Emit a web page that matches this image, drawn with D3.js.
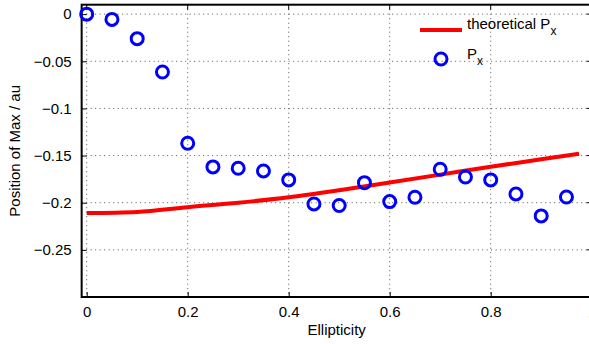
<!DOCTYPE html>
<html><head><meta charset="utf-8">
<script src="https://cdn.jsdelivr.net/npm/d3@7"></script>
<style>
body{margin:0;background:#fff;}
svg{display:block;font-family:"Liberation Sans",Arial,Helvetica,sans-serif;}
</style></head>
<body>
<svg id="chart" width="589" height="344"></svg>
<script>
const ellipticity = [0,0.05,0.1,0.15,0.2,0.25,0.3,0.35,0.4,0.45,0.5,0.55,0.6,0.65,0.7,0.75,0.8,0.85,0.9,0.95];
const measuredPx = [0,-0.0056,-0.026,-0.0614,-0.137,-0.162,-0.1635,-0.1663,-0.1758,-0.2013,-0.203,-0.1787,-0.1988,-0.1942,-0.1645,-0.1727,-0.1758,-0.1907,-0.214,-0.1939];
const theoryX = [0,0.1,0.2,0.3,0.4,0.5,0.6,0.7,0.8,0.9,0.975];
const theoryPx = [-0.211,-0.2098,-0.2047,-0.2,-0.1942,-0.1867,-0.1785,-0.1702,-0.1618,-0.154,-0.148];
const xTicks = [0,0.2,0.4,0.6,0.8,1];
const yTicks = [0,-0.05,-0.1,-0.15,-0.2,-0.25];

const svg = d3.select("#chart");
const L = 81.65, R = 591.7, T = 4.7, B = 297;
const FS = "15px", SUB = "12px";
const x = d3.scaleLinear().domain([-0.01,1]).range([L,R]);
const y = d3.scaleLinear().domain([-0.3,0.01]).range([B,T]);
const fmt = v => (v===0?"0":(v<0?"\u2212":"")+String(Math.abs(v)));

// grid
const g = svg.append("g");
g.selectAll(".gx").data(xTicks).enter().append("line")
  .attr("x1",d=>x(d)).attr("x2",d=>x(d)).attr("y1",T).attr("y2",B)
  .attr("stroke","#555").attr("stroke-width",1).attr("stroke-dasharray","1,3.5");
g.selectAll(".gy").data(yTicks).enter().append("line")
  .attr("y1",d=>y(d)).attr("y2",d=>y(d)).attr("x1",L).attr("x2",R)
  .attr("stroke","#555").attr("stroke-width",1).attr("stroke-dasharray","1,3.5");

// axes via d3
const xAxis = d3.axisBottom(x).tickValues(xTicks).tickSizeInner(-5).tickSizeOuter(0).tickPadding(9).tickFormat(fmt);
const yAxis = d3.axisLeft(y).tickValues(yTicks).tickSizeInner(-5).tickSizeOuter(0).tickPadding(10).tickFormat(fmt);
const xa = svg.append("g").attr("transform",`translate(0,${B})`).call(xAxis);
const ya = svg.append("g").attr("transform",`translate(${L},0)`).call(yAxis);
[xa,ya].forEach(a=>{
  a.select(".domain").remove();
  a.selectAll(".tick line").attr("stroke","#000").attr("stroke-width",1);
  a.selectAll("text").attr("fill","#000").style("font-size",FS);
});
// top/right ticks
svg.append("g").selectAll("line").data(xTicks).enter().append("line")
  .attr("x1",d=>x(d)).attr("x2",d=>x(d)).attr("y1",T).attr("y2",T+5).attr("stroke","#000");
svg.append("g").selectAll("line").data(yTicks).enter().append("line")
  .attr("y1",d=>y(d)).attr("y2",d=>y(d)).attr("x1",R).attr("x2",R-5).attr("stroke","#000");

// box
svg.append("rect").attr("x",L).attr("y",T).attr("width",R-L).attr("height",B-T)
  .attr("fill","none").attr("stroke","#000").attr("stroke-width",2);

// theoretical line
const line = d3.line().x((d,i)=>x(theoryX[i])).y(d=>y(d)).curve(d3.curveMonotoneX);
svg.append("path").datum(theoryPx).attr("d",line)
  .attr("fill","none").attr("stroke","#ff0000").attr("stroke-width",4);

// measured
svg.append("g").selectAll("circle").data(measuredPx).enter().append("circle")
  .attr("cx",(d,i)=>x(ellipticity[i])).attr("cy",d=>y(d)).attr("r",6)
  .attr("fill","none").attr("stroke","#0000ff").attr("stroke-width",3);

// legend
const lg = svg.append("g");
lg.append("line").attr("x1",420).attr("x2",462).attr("y1",30).attr("y2",30)
  .attr("stroke","#ff0000").attr("stroke-width",4);
const t1 = lg.append("text").attr("x",467).attr("y",29).style("font-size",FS).attr("fill","#000");
t1.append("tspan").text("theoretical P");
t1.append("tspan").attr("dy",6).style("font-size",SUB).text("x");
lg.append("circle").attr("cx",441).attr("cy",59).attr("r",6)
  .attr("fill","none").attr("stroke","#0000ff").attr("stroke-width",3);
const t2 = lg.append("text").attr("x",467).attr("y",59).style("font-size",FS).attr("fill","#000");
t2.append("tspan").text("P");
t2.append("tspan").attr("dy",6).style("font-size",SUB).text("x");

// axis labels
svg.append("text").attr("x",(L+R)/2).attr("y",335).attr("text-anchor","middle")
  .style("font-size",FS).text("Ellipticity");
svg.append("text").attr("transform",`translate(20,${(T+B)/2}) rotate(-90)`).attr("text-anchor","middle")
  .style("font-size",FS).text("Position of Max / au");
</script>
</body></html>
